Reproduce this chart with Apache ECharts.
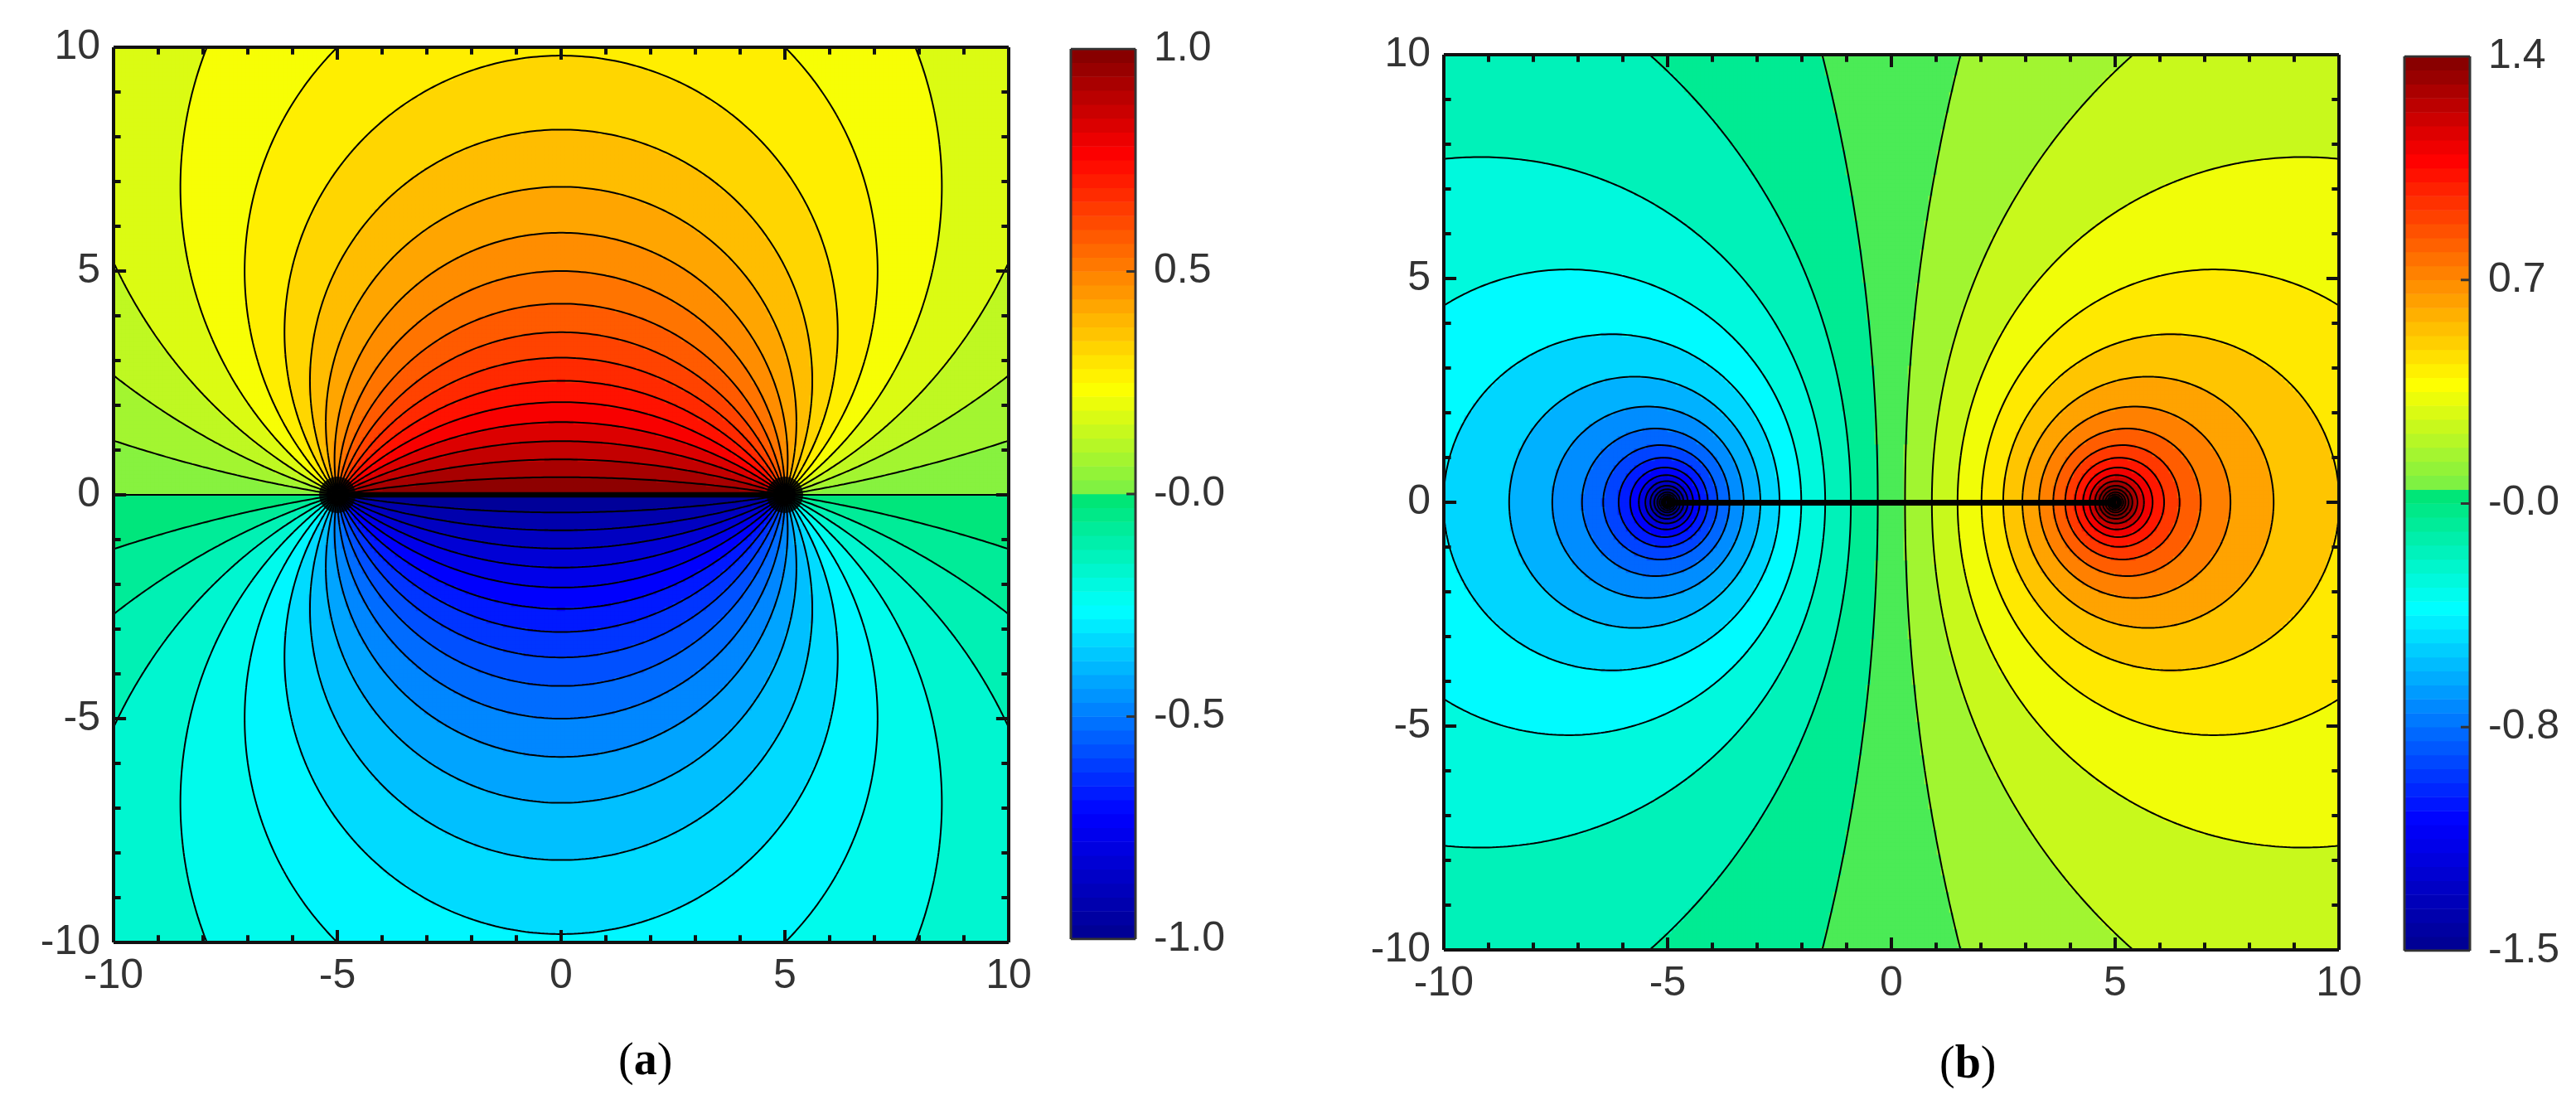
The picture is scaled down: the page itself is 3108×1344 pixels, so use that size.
<!DOCTYPE html>
<html><head><meta charset="utf-8">
<script src="https://cdn.jsdelivr.net/npm/echarts@6/dist/echarts.min.js"></script>
<style>html,body{margin:0;padding:0;background:#fff}#c{width:3108px;height:1344px}</style>
</head><body><div id="c"></div>
<script>
// ---- data ----
const axisTicks = [-10, -5, 0, 5, 10];
const minorTicks = [-9, -8, -7, -6, -4, -3, -2, -1, 1, 2, 3, 4, 6, 7, 8, 9];
const poleX = [-5, 5];
const rangeA = [-1.0, 1.0];
const rangeB = [-1.5, 1.4];
const cbarLabelsA = ['-1.0', '-0.5', '-0.0', '0.5', '1.0'];
const cbarLabelsB = ['-1.5', '-0.8', '-0.0', '0.7', '1.4'];
const levelStepA = 0.05, levelStepB = 0.1, strengthB = 0.41;
const N = 216;

function fA(x, y) { return (Math.atan2(y, x - poleX[1]) - Math.atan2(y, x - poleX[0])) / Math.PI; }
function fB(x, y) { return strengthB * 0.5 * Math.log(((x - poleX[0]) ** 2 + y * y) / ((x - poleX[1]) ** 2 + y * y)); }

const cmStops = [[0, [0, 0, 143]], [0.14, [0, 0, 255]], [0.37, [0, 255, 255]], [0.5, [0, 228, 110]],
  [0.5001, [120, 240, 70]], [0.62, [255, 255, 0]], [0.75, [255, 128, 0]], [0.88, [255, 0, 0]], [1, [128, 0, 0]]];
function cmap(t) {
  for (let i = 1; i < cmStops.length; i++) if (t <= cmStops[i][0]) {
    const a = cmStops[i - 1], b = cmStops[i], u = (t - a[0]) / (b[0] - a[0]);
    const c = a[1].map((v, k) => Math.round(v + u * (b[1][k] - v)));
    return 'rgb(' + c.join(',') + ')';
  }
  return 'rgb(128,0,0)';
}
function colorsFor(r) {
  const out = [], M = 500;
  for (let i = 0; i <= M; i++) {
    const v = r[0] + i / M * (r[1] - r[0]);
    const t = v <= 0.002 ? 0.5 * Math.min(1, (v - r[0]) / (0 - r[0])) : 0.5001 + 0.4999 * v / r[1];
    out.push(cmap(t));
  }
  return out;
}
function cells(f, quant, rng) {
  const d = [];
  for (let i = 0; i < N; i++) for (let j = 0; j < N; j++) {
    const x = -10 + (i + 0.5) * 20 / N, y = -10 + (j + 0.5) * 20 / N;
    let v = quant(f(x, y));
    v = Math.max(rng[0], Math.min(rng[1], v));
    d.push([i, j, v]);
  }
  return d;
}
const quantA = v => (Math.floor(v / levelStepA) + 0.5) * levelStepA;
const quantB = v => Math.round(v / levelStepB) * levelStepB;

function contours(f, levels) {
  const M = 240, h = 20 / (M - 1), g = [];
  for (let i = 0; i < M; i++) { g[i] = []; for (let j = 0; j < M; j++) g[i][j] = f(-10 + i * h, -10 + j * h); }
  const segs = [];
  for (let i = 0; i < M - 1; i++) for (let j = 0; j < M - 1; j++) {
    const x0 = -10 + i * h, y0 = -10 + j * h, x1 = x0 + h, y1 = y0 + h;
    const c = [[x0, y0, g[i][j]], [x1, y0, g[i + 1][j]], [x1, y1, g[i + 1][j + 1]], [x0, y1, g[i][j + 1]]];
    if (c.some(p => !isFinite(p[2]))) continue;
    for (const L of levels) {
      const pts = [];
      for (let k = 0; k < 4; k++) {
        const a = c[k], b = c[(k + 1) % 4];
        if ((a[2] - L) * (b[2] - L) < 0) {
          const t = (L - a[2]) / (b[2] - a[2]);
          pts.push([a[0] + t * (b[0] - a[0]), a[1] + t * (b[1] - a[1])]);
        }
      }
      if (pts.length >= 2) segs.push({ coords: [pts[0], pts[1]] });
      if (pts.length === 4) segs.push({ coords: [pts[2], pts[3]] });
    }
  }
  return segs;
}
const levelsA = []; for (let k = -19; k <= 19; k++) levelsA.push(k * levelStepA);
const levelsB = []; for (let k = -25; k < 25; k++) levelsB.push((k + 0.5) * levelStepB);

// frame and inside ticks, drawn as contour-like segments in data units
function frameTicks() {
  const d = [];
  const e = [[-10, -10], [10, -10], [10, 10], [-10, 10]];
  for (let i = 0; i < 4; i++) d.push({ coords: [e[i], e[(i + 1) % 4]] });
  const add = (vals, len) => vals.forEach(v => {
    d.push({ coords: [[v, -10], [v, -10 + len]] }, { coords: [[v, 10], [v, 10 - len]] },
      { coords: [[-10, v], [-10 + len, v]] }, { coords: [[10, v], [10 - len, v]] });
  });
  add(axisTicks, 0.28); add(minorTicks, 0.16);
  return d;
}

const cats = Array.from({ length: N }, (_, i) => i);
const cb = 64, cbCats = Array.from({ length: cb }, (_, i) => i);
function cbarData(r) { return cbCats.map(i => [0, i, r[0] + (i + 0.5) * (r[1] - r[0]) / cb]); }

const font = 'Liberation Sans';
const lab = { color: '#333', fontSize: 50, fontFamily: font };
const plots = [
  { left: 137, top: 57, width: 1080, height: 1080 },
  { left: 1742, top: 66, width: 1080, height: 1080 }
];
const cbars = [
  { left: 1292, top: 59, width: 78, height: 1074 },
  { left: 2901, top: 68, width: 79, height: 1079 }
];
const grids = [], xAxis = [], yAxis = [], series = [];
const heat = [[], []];
const noProg = { progressive: 0, progressiveThreshold: 1e9 };
function hiddenCat(data, gi) { return { type: 'category', data, gridIndex: gi, show: false, boundaryGap: true }; }
plots.forEach((p, k) => {
  grids.push(Object.assign({}, p)); const gh = grids.length - 1;
  xAxis.push(hiddenCat(cats, gh)); yAxis.push(hiddenCat(cats, gh));
  heat[k].push(series.length);
  series.push({ type: 'heatmap', z: 1, ...noProg, xAxisIndex: xAxis.length - 1, yAxisIndex: yAxis.length - 1, silent: true,
    data: k === 0 ? cells(fA, quantA, rangeA) : cells(fB, quantB, rangeB) });
  grids.push(Object.assign({}, p)); const gv = grids.length - 1;
  const va = pos => ({ type: 'value', gridIndex: gv, min: -10, max: 10, interval: 5, position: pos,
    axisLine: { show: false }, axisTick: { show: false }, splitLine: { show: false }, axisLabel: { ...lab, margin: 16 } });
  xAxis.push(va('bottom')); yAxis.push(va('left'));
  const xi = xAxis.length - 1, yi = yAxis.length - 1;
  series.push({ type: 'lines', zlevel: 1, z: 5, ...noProg, coordinateSystem: 'cartesian2d', xAxisIndex: xi, yAxisIndex: yi, large: true, largeThreshold: 100,
    silent: true, lineStyle: { color: '#000', width: 2, opacity: 1 },
    data: k === 0 ? contours(fA, levelsA) : contours(fB, levelsB) });
  // frame & ticks in the same (working) large-lines style
  series.push({ type: 'lines', zlevel: 1, z: 9, ...noProg, coordinateSystem: 'cartesian2d', xAxisIndex: xi, yAxisIndex: yi, large: true, largeThreshold: 1,
    silent: true, lineStyle: { color: '#111', width: 4, opacity: 1 }, data: frameTicks() });
  series.push({ type: 'lines', zlevel: 1, z: 6, coordinateSystem: 'cartesian2d', xAxisIndex: xi, yAxisIndex: yi, silent: true,
    lineStyle: { color: '#000', width: k === 0 ? 6 : 7, opacity: 1 },
    data: [{ coords: [[poleX[0], 0], [poleX[1], 0]] }] });
  if (k === 0) series.push({ type: 'scatter', zlevel: 1, z: 7, xAxisIndex: xi, yAxisIndex: yi, silent: true, symbolSize: 44,
    itemStyle: { color: '#000' }, data: poleX.map(x => [x, 0]) });
});
cbars.forEach((p, k) => {
  const r = k === 0 ? rangeA : rangeB, labels = k === 0 ? cbarLabelsA : cbarLabelsB;
  grids.push(Object.assign({}, p)); const gh = grids.length - 1;
  xAxis.push(hiddenCat([0], gh)); yAxis.push(hiddenCat(cbCats, gh));
  heat[k].push(series.length);
  series.push({ type: 'heatmap', z: 1, xAxisIndex: xAxis.length - 1, yAxisIndex: yAxis.length - 1, silent: true, data: cbarData(r) });
  grids.push(Object.assign({}, p)); const gv = grids.length - 1;
  xAxis.push({ type: 'value', gridIndex: gv, min: 0, max: 1, show: false });
  const vals = labels.map((_, i) => r[0] + i * (r[1] - r[0]) / 4);
  yAxis.push({ type: 'value', gridIndex: gv, min: r[0], max: r[1], position: 'right',
    axisLine: { show: false }, axisTick: { show: false }, splitLine: { show: false },
    axisLabel: { ...lab, margin: 22, customValues: vals, formatter: v => { let b = 0, d = 1e9; vals.forEach((q, i) => { if (Math.abs(q - v) < d) { d = Math.abs(q - v); b = i; } }); return labels[b]; } } });
  const xi = xAxis.length - 1, yi = yAxis.length - 1;
  const fr = [[0, r[0]], [1, r[0]], [1, r[1]], [0, r[1]]];
  const fd = fr.map((q, i) => ({ coords: [q, fr[(i + 1) % 4]] })).concat(vals.map(v => ({ coords: [[1, v], [0.86, v]] })));
  series.push({ type: 'lines', zlevel: 1, z: 9, ...noProg, coordinateSystem: 'cartesian2d', xAxisIndex: xi, yAxisIndex: yi, large: true, largeThreshold: 1,
    silent: true, lineStyle: { color: '#333', width: 3, opacity: 1 }, data: fd });
});
const visualMap = [
  { type: 'continuous', show: false, min: rangeA[0], max: rangeA[1], seriesIndex: heat[0], inRange: { color: colorsFor(rangeA) } },
  { type: 'continuous', show: false, min: rangeB[0], max: rangeB[1], seriesIndex: heat[1], inRange: { color: colorsFor(rangeB) } }
];

const chart = echarts.init(document.getElementById('c'));
const capStyle = t => ({ text: '({b|' + t + '})', rich: { b: { fontWeight: 'bold', fontSize: 56, fontFamily: 'Liberation Serif', fill: '#000' } }, fontSize: 56, fontFamily: 'Liberation Serif', fill: '#000' });
chart.setOption({
  animation: false, backgroundColor: '#fff', grid: grids, xAxis, yAxis, series, visualMap,
  graphic: [
    { type: 'text', left: 746, top: 1254, style: capStyle('a') },
    { type: 'text', left: 2340, top: 1258, style: capStyle('b') }
  ]
});
</script></body></html>
